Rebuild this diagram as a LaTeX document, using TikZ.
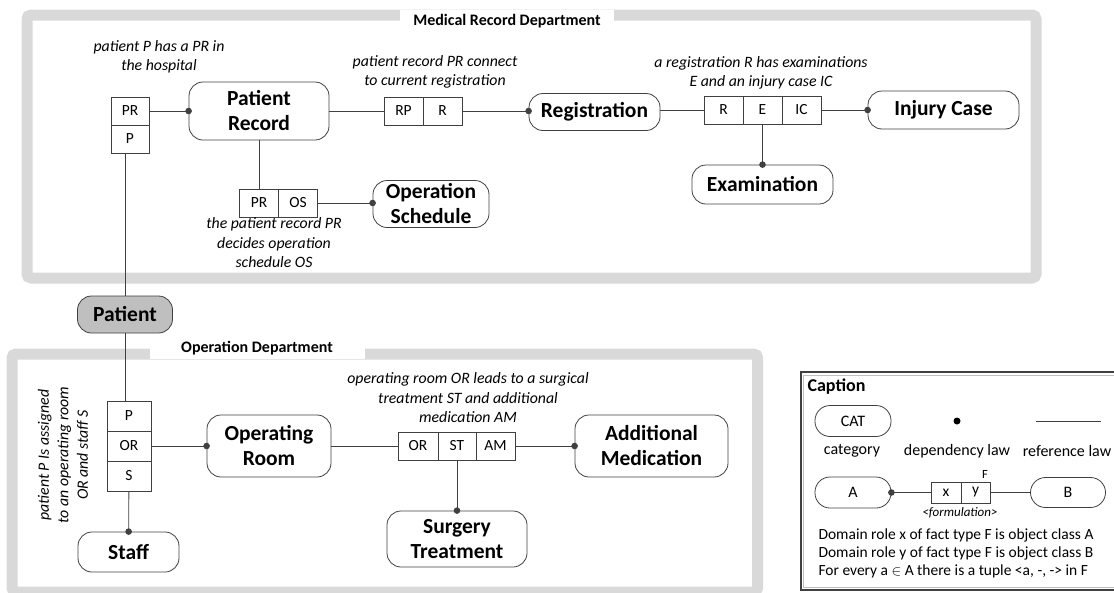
\documentclass[tikz,border=0pt]{standalone}
\usepackage{fontspec}
\setmainfont{Carlito}
\usetikzlibrary{arrows.meta,positioning}

\begin{document}
\begin{tikzpicture}[
    x=1pt, y=-1pt,
    cat/.style={rectangle, draw=black!75, line width=0.8pt, rounded corners=14pt, align=center, font=\fontsize{21.5}{25}\selectfont\bfseries},
    role/.style={rectangle, draw=black!75, line width=0.7pt, minimum height=28pt, inner sep=0pt, font=\fontsize{15.5}{18}\selectfont},
    remark/.style={align=center, font=\fontsize{15.8}{19.5}\selectfont\itshape},
    dept/.style={draw=black!15, line width=11pt, rounded corners=4pt},
    depttitle/.style={fill=white, minimum height=22pt, font=\fontsize{16}{19}\selectfont\bfseries},
    reflaw/.style={draw=black!75, line width=0.8pt},
    deplaw/.style={reflaw, -{Circle[length=6.5pt]}, shorten >=-3.25pt},
    small/.style={rounded corners=15pt, minimum width=76pt, minimum height=31pt, font=\fontsize{16}{19}\selectfont},
    legend/.style={font=\fontsize{16}{19}\selectfont}
]
    \useasboundingbox (0,0) rectangle (1114,592);
    \clip (0,0) rectangle (1114,592);

    % Department frames
    \draw[dept] (27,15) rectangle (1036,278);
    \node[depttitle, minimum width=214pt] (mrdtitle) at (507,21) {Medical Record Department};
    \draw[dept] (12,354) rectangle (757.5,592);
    \node[depttitle, minimum width=215pt] (odtitle) at (257,348) {Operation Department};

    % Medical record department
    \node[role, minimum width=38pt] (ppr-pr) at (130,111) {PR};
    \node[role, minimum width=38pt] (ppr-p) at (130,139) {P};
    \node[cat, minimum width=140pt, minimum height=58pt] (patrec) at (259,111) {Patient\\Record};
    \node[remark] (ppr-txt) at (159,57) {patient P has a PR in\\the hospital};

    \node[role, minimum width=39pt] (rp-rp) at (403.5,111) {RP};
    \node[role, minimum width=39pt] (rp-r) at (442.5,111) {R};
    \node[remark] (rp-txt) at (435,72) {patient record PR connect\\to current registration};
    \node[cat, minimum width=131pt, minimum height=37pt] (regis) at (594.5,112) {Registration};

    \node[role, minimum width=39pt] (reic-r) at (723.5,110) {R};
    \node[role, minimum width=39pt] (reic-e) at (762.5,110) {E};
    \node[role, minimum width=39pt] (reic-ic) at (801.5,110) {IC};
    \node[remark] (reic-txt) at (761,73) {a registration R has examinations\\E and an injury case IC};
    \node[cat, minimum width=151pt, minimum height=38pt] (injury) at (943.5,110) {Injury Case};
    \node[cat, minimum width=141pt, minimum height=39pt] (exam) at (762.5,184.5) {Examination};

    \node[role, minimum width=39pt] (pros-pr) at (259,203) {PR};
    \node[role, minimum width=39pt] (pros-os) at (298,203) {OS};
    \node[remark] (pros-txt) at (274,243) {the patient record PR\\decides operation\\schedule OS};
    \node[cat, minimum width=116pt, minimum height=45pt] (opsched) at (431,204) {Operation\\Schedule};

    % Patient
    \node[cat, fill=black!25, minimum width=95pt, minimum height=37pt] (patient) at (125,314.5) {Patient};

    % Operation department
    \node[role, minimum width=44pt, minimum height=30pt] (pos-p) at (129,416) {P};
    \node[role, minimum width=44pt, minimum height=30pt] (pos-or) at (129,446) {OR};
    \node[role, minimum width=44pt, minimum height=30pt] (pos-s) at (129,476) {S};
    \node[remark, rotate=90] (pos-txt) at (63,455) {patient P Is assigned\\to an operating room\\OR and staff S};
    \node[cat, minimum width=124pt, minimum height=62pt] (oproom) at (269,446) {Operating\\Room};
    \node[cat, minimum width=101pt, minimum height=40pt] (staff) at (128.5,552) {Staff};

    \node[role, minimum width=40pt] (oam-or) at (418,446) {OR};
    \node[role, minimum width=38pt] (oam-st) at (457,446) {ST};
    \node[role, minimum width=39pt] (oam-am) at (495.5,446) {AM};
    \node[remark] (oam-txt) at (468,398) {operating room OR leads to a surgical\\treatment ST and additional\\medication AM};
    \node[cat, minimum width=153pt, minimum height=62pt] (addmed) at (651.5,446) {Additional\\Medication};
    \node[cat, minimum width=140pt, minimum height=56pt] (surg) at (457,539) {Surgery\\Treatment};

    % Caption
    \draw[black!75, line width=2pt] (800.5,372) rectangle (1130,590);
    \draw[black!25, line width=0.8pt] (803.5,375) rectangle (1130,587);
    \node[anchor=west, font=\fontsize{18}{21}\selectfont\bfseries] (captitle) at (804,387) {Caption};
    \node[cat, small] (capcat) at (853,421) {CAT};
    \node[circle, fill=black, inner sep=0pt, minimum size=7pt] (capdot) at (957,421) {};
    \coordinate (capref-a) at (1036,421);
    \coordinate (capref-b) at (1101,421);
    \node[legend] (capcat-txt) at (852,451) {category};
    \node[legend] (capdot-txt) at (957,451) {dependency law};
    \node[legend] (capref-txt) at (1067,451) {reference law};
    \node[cat, small] (capa) at (853,492.5) {A};
    \node[role, minimum width=30pt, minimum height=21pt] (capx) at (946,492.5) {x};
    \node[role, minimum width=29pt, minimum height=21pt] (capy) at (975.5,492.5) {y};
    \node[font=\fontsize{12.5}{14}\selectfont] (capf) at (985,474) {F};
    \node[font=\fontsize{13}{15}\selectfont\itshape] (capform) at (960,513) {<formulation>};
    \node[cat, small, minimum width=75pt, minimum height=30pt] (capb) at (1068,492.5) {B};
    \node[anchor=west, align=left, font=\fontsize{15.5}{18}\selectfont] (caprules) at (815,553) {Domain role x of fact type F is object class A\\Domain role y of fact type F is object class B\\For every a $\in$ A there is a tuple <a, -, -> in F};

    % Connectors
    \draw[deplaw] (ppr-pr) -- (patrec);
    \draw[reflaw] (ppr-p.south -| patient.north) -- (patient.north);
    \draw[reflaw] (patient.south) -- (patient.south |- pos-p.north);
    \draw[reflaw] (patrec) -- (rp-rp);
    \draw[deplaw] (rp-r) -- (regis.west |- rp-r.east);
    \draw[reflaw] (regis.east |- reic-r.west) -- (reic-r);
    \draw[deplaw] (reic-ic) -- (injury);
    \draw[deplaw] (reic-e) -- (exam);
    \draw[reflaw] (patrec) -- (pros-pr);
    \draw[deplaw] (pros-os) -- (opsched.west |- pros-os.east);
    \draw[deplaw] (pos-or) -- (oproom);
    \draw[deplaw] (pos-s) -- (staff);
    \draw[reflaw] (oproom) -- (oam-or);
    \draw[deplaw] (oam-am) -- (addmed);
    \draw[deplaw] (oam-st) -- (surg);
    \draw[reflaw] (capref-a) -- (capref-b);
    \draw[deplaw] (capx) -- (capa);
    \draw[reflaw] (capy) -- (capb);
\end{tikzpicture}
\end{document}
